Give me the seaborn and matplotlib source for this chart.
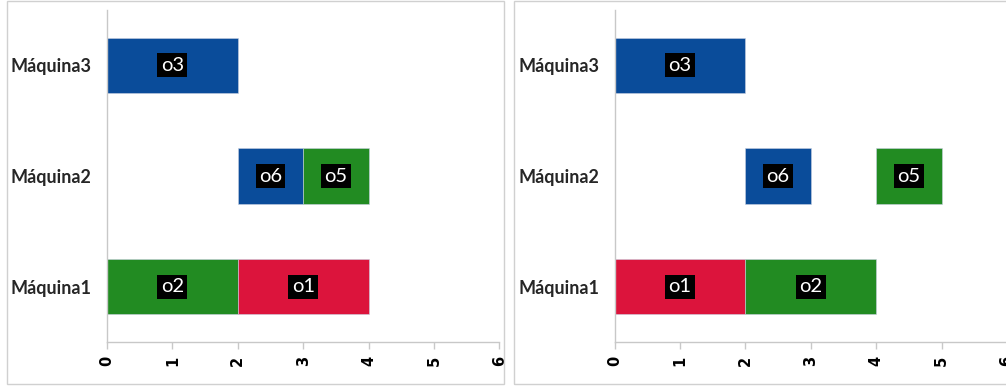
import matplotlib
matplotlib.use("Agg")
from matplotlib import pyplot as plt
from matplotlib.patches import Rectangle
import seaborn as sns

machines = ["Máquina1", "Máquina2", "Máquina3"]

# left schedule: (machine, operation, start, end)
left_machine = ["Máquina1", "Máquina1", "Máquina2", "Máquina2", "Máquina3"]
left_op = ["o2", "o1", "o6", "o5", "o3"]
left_start = [0, 2, 2, 3, 0]
left_end = [2, 4, 3, 4, 2]

# right schedule
right_machine = ["Máquina1", "Máquina1", "Máquina2", "Máquina2", "Máquina3"]
right_op = ["o1", "o2", "o6", "o5", "o3"]
right_start = [0, 2, 2, 4, 0]
right_end = [2, 4, 3, 5, 2]

op_colors = {"o1": "#DC143C", "o2": "#228B22", "o5": "#228B22",
             "o3": "#0A4C9A", "o6": "#0A4C9A"}

sns.set_theme(style="white")
plt.rcParams['font.family'] = ['Lato', 'DejaVu Sans']

W, H = 1006, 387
fig = plt.figure(figsize=(W / 100, H / 100), dpi=100)

# panel borders
for x0, x1 in [(7, 504), (514, 1010)]:
    fig.patches.append(Rectangle((x0 / W, 3 / H), (x1 - x0) / W, 383 / H,
                                 transform=fig.transFigure, fill=False,
                                 edgecolor="#d0d0d0", linewidth=1))


def gantt(ax, mach, ops, start, end):
    for m, o, s, e in zip(mach, ops, start, end):
        y = machines.index(m)
        ax.barh(y, e - s, left=s, height=0.5, color=op_colors[o],
                edgecolor="#c8d0e0", linewidth=0.4)
        ax.text((s + e) / 2, y, o, color="white", fontsize=14.5,
                ha="center", va="center",
                bbox=dict(facecolor="black", edgecolor="none", pad=2.5))
    ax.set_xlim(0, 6)
    ax.set_ylim(-0.5, 2.5)
    ax.set_yticks(range(len(machines)))
    ax.set_yticklabels(machines, fontsize=13, fontweight="bold")
    ax.set_xticks(range(7))
    ax.set_xticklabels([str(i) for i in range(7)], rotation=90,
                       fontsize=10.5, fontweight="bold", family="DejaVu Sans")
    for sp in ["top", "right"]:
        ax.spines[sp].set_visible(False)
    for sp in ["left", "bottom"]:
        ax.spines[sp].set_color("#c8c8c8")
        ax.spines[sp].set_linewidth(1)
    ax.tick_params(axis="x", bottom=True, length=5, width=1, pad=5,
                   color="#c8c8c8", labelcolor="black")
    ax.tick_params(axis="y", left=False, pad=5)


unit = 65.4
ax1 = fig.add_axes([107 / W, 1 - 342 / H, 6 * unit / W, 332 / H])
gantt(ax1, left_machine, left_op, left_start, left_end)
ax2 = fig.add_axes([614.5 / W, 1 - 342 / H, 6 * unit / W, 332 / H])
gantt(ax2, right_machine, right_op, right_start, right_end)

fig.savefig("out.png", dpi=100)
